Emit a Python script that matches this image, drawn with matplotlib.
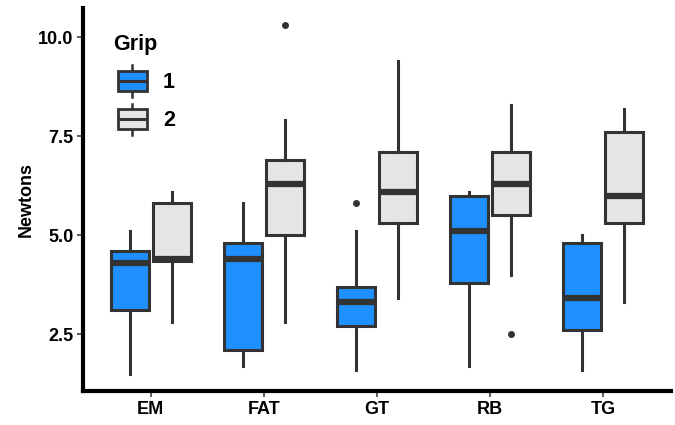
"""
Grip force boxplots by test, ggplot-style
"""
import matplotlib
matplotlib.use('Agg')
import matplotlib.pyplot as plt
from matplotlib.legend_handler import HandlerBase
from matplotlib.patches import Rectangle
from matplotlib.lines import Line2D

plt.rcParams['font.family'] = ['Liberation Sans', 'DejaVu Sans']

# ── Data ──────────────────────────────────────────────────────────────────────
tests = ['EM', 'FAT', 'GT', 'RB', 'TG']
grips = ['1', '2']

g1_whislo = [1.5, 1.7, 1.6, 1.7, 1.6]
g1_q1     = [3.1, 2.1, 2.7, 3.8, 2.6]
g1_med    = [4.3, 4.4, 3.3, 5.1, 3.4]
g1_q3     = [4.6, 4.8, 3.7, 6.0, 4.8]
g1_whishi = [5.1, 5.8, 5.1, 6.1, 5.0]
g1_fliers = [[], [], [5.8], [], []]

g2_whislo = [2.8, 2.8, 3.4, 4.0, 3.3]
g2_q1     = [4.35, 5.0, 5.3, 5.5, 5.3]
g2_med    = [4.4, 6.3, 6.1, 6.3, 6.0]
g2_q3     = [5.8, 6.9, 7.1, 7.1, 7.6]
g2_whishi = [6.1, 7.9, 9.4, 8.3, 8.2]
g2_fliers = [[], [10.3], [], [2.5], []]

colors = ['#1E90FF', '#E5E5E5']
edge = '#333333'


def make_stats(whislo, q1, med, q3, whishi, fliers):
    return [dict(whislo=a, q1=b, med=c, q3=d, whishi=e, fliers=f)
            for a, b, c, d, e, f in zip(whislo, q1, med, q3, whishi, fliers)]


groups = [
    make_stats(g1_whislo, g1_q1, g1_med, g1_q3, g1_whishi, g1_fliers),
    make_stats(g2_whislo, g2_q1, g2_med, g2_q3, g2_whishi, g2_fliers),
]


class HandlerBox(HandlerBase):
    """Legend key that looks like a small boxplot."""
    def create_artists(self, legend, orig_handle, xdescent, ydescent,
                       width, height, fontsize, trans):
        x0, y0 = -xdescent + 3, -ydescent
        cx = x0 + width / 2
        whisk = Line2D([cx, cx], [y0, y0 + height], color=edge, lw=1.8,
                       transform=trans)
        box = Rectangle((x0, y0 + height * 0.18), width, height * 0.64,
                        facecolor=orig_handle.get_facecolor(), edgecolor=edge,
                        lw=2.0, joinstyle='miter', transform=trans)
        med = Line2D([x0, x0 + width], [y0 + height / 2] * 2, color=edge,
                     lw=2.2, solid_capstyle='butt', transform=trans)
        return [whisk, box, med]


# ── Plot ──────────────────────────────────────────────────────────────────────
fig = plt.figure(figsize=(6.75, 4.25), dpi=100)
ax = fig.add_axes([0.123, 0.08, 0.871, 0.901])

offsets = [-0.1875, 0.1875]
for stats, off, col in zip(groups, offsets, colors):
    pos = [i + 1 + off for i in range(len(tests))]
    ax.bxp(stats, positions=pos, widths=0.3375, patch_artist=True,
           showcaps=False, manage_ticks=False,
           boxprops=dict(facecolor=col, edgecolor=edge, linewidth=2.2,
                         joinstyle='miter'),
           medianprops=dict(color=edge, linewidth=4.5, solid_capstyle='butt'),
           whiskerprops=dict(color=edge, linewidth=2.2),
           flierprops=dict(marker='o', markerfacecolor=edge,
                           markeredgecolor=edge, markersize=4))

ax.set_xlim(0.4, len(tests) + 0.6)
ax.set_ylim(1.06, 10.74)
ax.set_xticks(range(1, len(tests) + 1))
ax.set_xticklabels(tests)
ax.set_yticks([2.5, 5.0, 7.5, 10.0])
ax.set_yticklabels(['2.5', '5.0', '7.5', '10.0'])

for s in ['top', 'right']:
    ax.spines[s].set_visible(False)
for s in ['left', 'bottom']:
    ax.spines[s].set_linewidth(3)
    ax.spines[s].set_color('black')

ax.tick_params(length=4, width=1.1, color=edge, labelsize=13, pad=3)
for lab in ax.get_xticklabels() + ax.get_yticklabels():
    lab.set_fontweight('bold')
    lab.set_color('black')

ax.set_ylabel('Newtons', fontsize=13, fontweight='bold', labelpad=2)

handles = [Rectangle((0, 0), 1, 1, facecolor=c) for c in colors]
leg = ax.legend(handles=handles, labels=grips, title='Grip',
                handler_map={Rectangle: HandlerBox()},
                loc='upper left', bbox_to_anchor=(0.019, 0.982),
                frameon=False, fontsize=15.5, title_fontsize=15.5,
                handlelength=1.35, handleheight=1.84, labelspacing=0.33,
                handletextpad=0.94, alignment='left')
leg.get_title().set_fontweight('bold')
for t in leg.get_texts():
    t.set_fontweight('bold')
leg._legend_box.sep = 7.3  # a bit more room under the title

fig.savefig('out.png', dpi=100)
plt.close(fig)
